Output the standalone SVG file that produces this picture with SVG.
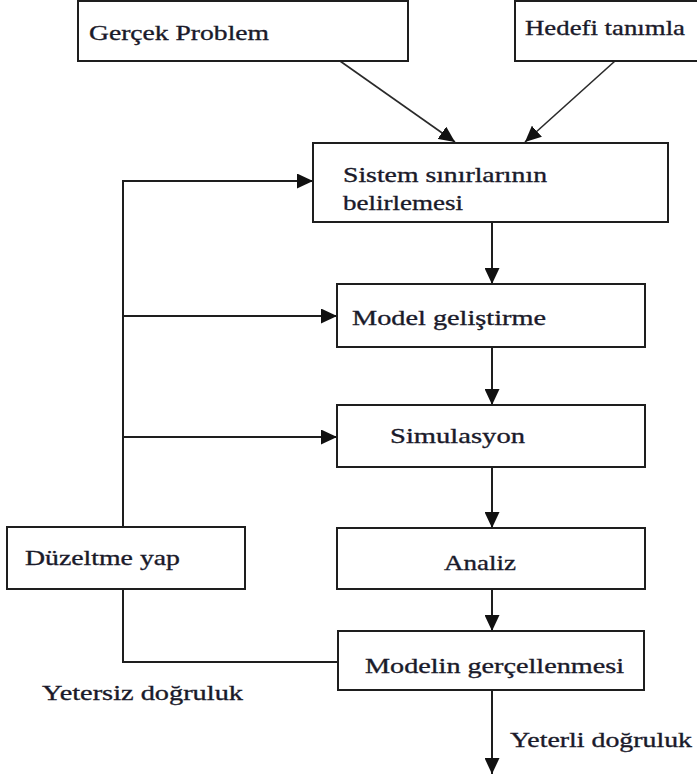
<svg xmlns="http://www.w3.org/2000/svg" width="697" height="778" viewBox="0 0 697 778">
  <style>
    .box { fill: #fff; stroke: #1e1e1e; stroke-width: 2; }
    .lbl { font-family: "Liberation Serif", "Times New Roman", serif; font-size: 22px; fill: #1a1a2a; stroke: #1a1a2a; stroke-width: 0.35; }
    .wire { fill: none; stroke: #1e1e1e; stroke-width: 2; }
    .thin { fill: none; stroke: #2a2a2a; stroke-width: 1.6; }
  </style>
  <defs>
    <marker id="head" markerUnits="userSpaceOnUse" markerWidth="17" markerHeight="15" viewBox="0 0 17 15" refX="16" refY="7.5" orient="auto">
      <path d="M0,0 L16,7.5 L0,15 Z" fill="#111"/>
    </marker>
  </defs>

  <rect width="697" height="778" fill="#fff"/>

  <!-- connectors -->
  <g id="connectors">
    <line class="thin" x1="340" y1="61" x2="455" y2="142" marker-end="url(#head)"/>
    <line class="thin" x1="615" y1="61" x2="525" y2="142" marker-end="url(#head)"/>
    <line class="wire" x1="492" y1="222" x2="492" y2="284" marker-end="url(#head)"/>
    <line class="wire" x1="492" y1="347" x2="492" y2="405" marker-end="url(#head)"/>
    <line class="wire" x1="492" y1="467" x2="492" y2="528" marker-end="url(#head)"/>
    <line class="wire" x1="492" y1="589" x2="492" y2="631" marker-end="url(#head)"/>
    <line class="wire" x1="492" y1="690" x2="492" y2="774" marker-end="url(#head)"/>
    <!-- feedback loop -->
    <polyline class="wire" points="123,527 123,181 313,181" marker-end="url(#head)"/>
    <line class="wire" x1="123" y1="316" x2="337" y2="316" marker-end="url(#head)"/>
    <line class="wire" x1="123" y1="437" x2="337" y2="437" marker-end="url(#head)"/>
    <polyline class="wire" points="338,662 123,662 123,589"/>
  </g>

  <g id="gercek-problem">
    <rect class="box" x="78" y="1" width="330" height="60"/>
    <text class="lbl" x="89" y="40" textLength="180" lengthAdjust="spacingAndGlyphs">Gerçek Problem</text>
  </g>

  <g id="hedefi-tanimla">
    <rect class="box" x="515" y="1" width="190" height="60"/>
    <text class="lbl" x="525" y="35" textLength="160" lengthAdjust="spacingAndGlyphs">Hedefi tanımla</text>
  </g>

  <g id="sistem-sinirlari">
    <rect class="box" x="313" y="143" width="355" height="79"/>
    <text class="lbl" x="343" y="182" textLength="204" lengthAdjust="spacingAndGlyphs">Sistem sınırlarının</text>
    <text class="lbl" x="343" y="210" textLength="120" lengthAdjust="spacingAndGlyphs">belirlemesi</text>
  </g>

  <g id="model-gelistirme">
    <rect class="box" x="337" y="284" width="308" height="63"/>
    <text class="lbl" x="352" y="325" textLength="194" lengthAdjust="spacingAndGlyphs">Model geliştirme</text>
  </g>

  <g id="simulasyon">
    <rect class="box" x="337" y="405" width="308" height="62"/>
    <text class="lbl" x="390" y="443" textLength="135" lengthAdjust="spacingAndGlyphs">Simulasyon</text>
  </g>

  <g id="analiz">
    <rect class="box" x="337" y="528" width="308" height="61"/>
    <text class="lbl" x="444" y="570" textLength="72" lengthAdjust="spacingAndGlyphs">Analiz</text>
  </g>

  <g id="duzeltme-yap">
    <rect class="box" x="7" y="527" width="238" height="62"/>
    <text class="lbl" x="25" y="565" textLength="155" lengthAdjust="spacingAndGlyphs">Düzeltme yap</text>
  </g>

  <g id="modelin-gercellenmesi">
    <rect class="box" x="338" y="631" width="306" height="59"/>
    <text class="lbl" x="365" y="673" textLength="259" lengthAdjust="spacingAndGlyphs">Modelin gerçellenmesi</text>
  </g>

  <g id="edge-labels">
    <text class="lbl" x="42" y="700" textLength="201" lengthAdjust="spacingAndGlyphs">Yetersiz doğruluk</text>
    <text class="lbl" x="510" y="747" textLength="182" lengthAdjust="spacingAndGlyphs">Yeterli doğruluk</text>
  </g>
</svg>
